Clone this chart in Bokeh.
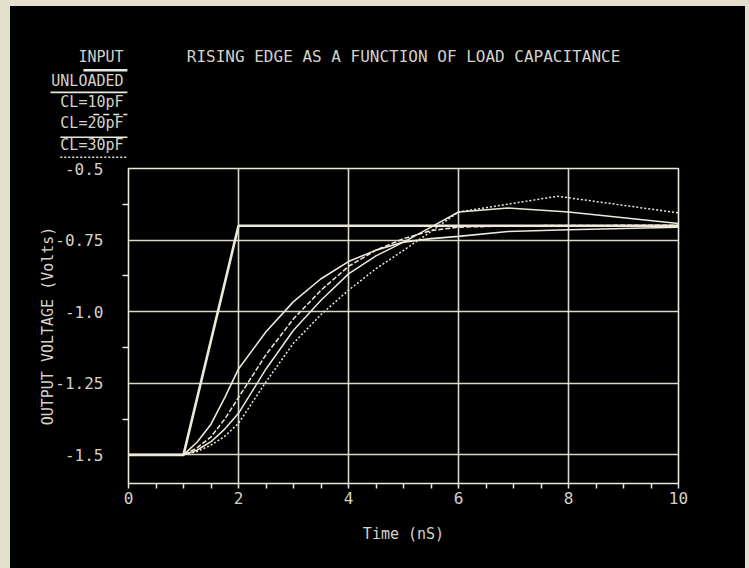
from bokeh.plotting import figure
from bokeh.models import FixedTicker, Range1d
from bokeh.core.properties import value
from bokeh.embed import file_html
from bokeh.resources import INLINE

# ---- data ----
input_t = [0, 1, 2, 10]
input_v = [-1.5, -1.5, -0.7, -0.7]

unloaded_t = [0, 1, 1.25, 1.5, 1.75, 2, 2.5, 3, 3.5, 4, 4.5, 5, 5.5, 6, 6.9, 8, 10]
unloaded_v = [-1.5, -1.5, -1.455, -1.393, -1.30, -1.20, -1.07, -0.965, -0.885, -0.825,
              -0.785, -0.757, -0.745, -0.737, -0.72, -0.714, -0.705]

cl10_t = [0, 1, 1.25, 1.5, 1.75, 2, 2.5, 3, 3.5, 4, 4.5, 5, 5.5, 6, 7, 8, 10]
cl10_v = [-1.5, -1.5, -1.475, -1.437, -1.375, -1.30, -1.15, -1.025, -0.925, -0.842,
          -0.785, -0.745, -0.717, -0.705, -0.700, -0.699, -0.698]

cl20_t = [0, 1, 1.25, 1.5, 1.75, 2, 2.5, 3, 3.5, 4, 4.5, 5, 5.5, 6, 6.9, 8, 10]
cl20_v = [-1.5, -1.5, -1.483, -1.454, -1.41, -1.355, -1.20, -1.065, -0.96, -0.868,
          -0.805, -0.757, -0.705, -0.652, -0.638, -0.652, -0.692]

cl30_t = [0, 1, 1.25, 1.5, 1.75, 2, 2.5, 3, 3.5, 4, 4.5, 5, 5.5, 6, 7.8, 10]
cl30_v = [-1.5, -1.5, -1.488, -1.466, -1.435, -1.39, -1.245, -1.11, -1.01, -0.925,
          -0.85, -0.786, -0.72, -0.652, -0.597, -0.655]

x_ticks = [0, 2, 4, 6, 8, 10]
x_minor = [0.5, 1, 1.5, 2.5, 3, 3.5, 4.5, 5, 5.5, 6.5, 7, 7.5, 8.5, 9, 9.5]
y_ticks = [-1.5, -1.25, -1.0, -0.75, -0.5]
y_tick_labels = ["-1.5", "-1.25", "-1.0", "-0.75", "-0.5"]
y_minor = [-1.375, -1.125, -0.875, -0.625]

title_text = "RISING EDGE AS A FUNCTION OF LOAD CAPACITANCE"
legend_names = ["INPUT", "UNLOADED", "CL=10pF", "CL=20pF", "CL=30pF"]

# ---- style ----
BG = "#000000"
LINE = "#ece9da"
TEXT = "#d4d2c8"
FONT = "DejaVu Sans Mono"
PAPER = "#e4e0cb"

PAD_LEFT, PAD_TOP = 10, 6
W = 735
LEFT, RIGHT, TOP_GAP, BOTTOM = 118, 67, 10, 85
FRAME_H = 315
HEAD_H = 152
X0, X1 = 0, 10
Y0, Y1 = -1.6, -0.5
px_per_x = (W - LEFT - RIGHT) / (X1 - X0)
px_per_y = FRAME_H / (Y1 - Y0)

# ---- main plot ----
p = figure(width=W, height=TOP_GAP + FRAME_H + BOTTOM, output_backend="svg",
           toolbar_location=None,
           x_range=Range1d(X0, X1), y_range=Range1d(Y0, Y1),
           min_border_left=LEFT, min_border_right=RIGHT, min_border_top=TOP_GAP,
           min_border_bottom=BOTTOM)
p.background_fill_color = BG
p.border_fill_color = BG
p.outline_line_color = LINE
p.outline_line_width = 1.6

p.xgrid.ticker = FixedTicker(ticks=[2, 4, 6, 8])
p.ygrid.ticker = FixedTicker(ticks=[-1.5, -1.25, -1.0, -0.75])
for g in (p.xgrid, p.ygrid):
    g.grid_line_color = LINE
    g.grid_line_width = 1.6
    g.grid_line_alpha = 0.92

xa = p.xaxis[0]
xa.ticker = FixedTicker(ticks=x_ticks, minor_ticks=x_minor)
xa.axis_line_color = None
xa.major_tick_line_color = LINE
xa.minor_tick_line_color = LINE
xa.major_tick_in = 0
xa.major_tick_out = 5
xa.minor_tick_in = 0
xa.minor_tick_out = 5
xa.major_tick_line_width = 1.5
xa.minor_tick_line_width = 1.5
xa.major_label_standoff = 3
xa.axis_label = "Time (nS)"
xa.axis_label_standoff = 18

ya = p.yaxis[0]
ya.ticker = FixedTicker(ticks=y_ticks, minor_ticks=y_minor)
ya.major_label_overrides = {t: l for t, l in zip(y_ticks, y_tick_labels)}
ya.axis_line_color = None
ya.major_tick_line_color = None
ya.minor_tick_line_color = LINE
ya.major_tick_in = 0
ya.major_tick_out = 0
ya.minor_tick_in = 0
ya.minor_tick_out = 6
ya.minor_tick_line_width = 1.5
ya.major_label_standoff = 19
ya.axis_label = "OUTPUT VOLTAGE (Volts)"
ya.axis_label_standoff = -5

for ax in (xa, ya):
    ax.major_label_text_font = FONT
    ax.major_label_text_font_size = "16px"
    ax.major_label_text_color = TEXT
    ax.axis_label_text_font = FONT
    ax.axis_label_text_font_size = "15px"
    ax.axis_label_text_font_style = "normal"
    ax.axis_label_text_color = TEXT

p.line(input_t, input_v, line_color=LINE, line_width=2.6)
p.line(unloaded_t, unloaded_v, line_color=LINE, line_width=1.6)
p.line(cl10_t, cl10_v, line_color=LINE, line_width=1.5, line_dash="5 2")
p.line(cl20_t, cl20_v, line_color=LINE, line_width=1.5)
p.line(cl30_t, cl30_v, line_color=LINE, line_width=1.5, line_dash="2 2")

# ---- heading strip (title + legend), same data scale as the main plot ----
hx0 = X0 - LEFT / px_per_x
hx1 = X1 + RIGHT / px_per_x
hy0 = Y1 + TOP_GAP / px_per_y
hy1 = hy0 + HEAD_H / px_per_y
h = figure(width=W, height=HEAD_H, output_backend="svg", toolbar_location=None,
           x_range=Range1d(hx0, hx1), y_range=Range1d(hy0, hy1),
           x_axis_type=None, y_axis_type=None,
           min_border_left=0, min_border_right=0, min_border_top=0,
           min_border_bottom=0)
h.background_fill_color = BG
h.border_fill_color = BG
h.outline_line_color = None

h.text(x=[1.06], y=[-0.108], text=[title_text], text_font=value(FONT),
       text_font_size="16px", text_color=TEXT, text_align="left",
       text_baseline="middle")

leg_text_y = [-0.112, -0.195, -0.269, -0.342, -0.419]
leg_line_y = [-0.157, -0.234, -0.311, -0.391, -0.461]
leg_line_x0 = [-0.82, -1.42, -0.64, -1.24, -1.24]
leg_styles = [("solid", 2.4), ("solid", 1.6), ("6 4", 1.5), ("solid", 1.5), ("2 2", 1.5)]
h.text(x=[-0.09] * len(legend_names), y=leg_text_y, text=legend_names,
       text_font=value(FONT), text_font_size="15px", text_color=TEXT,
       text_align="right", text_baseline="middle")
for ly, lx0, (dash, lw) in zip(leg_line_y, leg_line_x0, leg_styles):
    h.line([lx0, -0.02], [ly, ly], line_color=LINE, line_width=lw, line_dash=dash)

html = file_html([h, p], INLINE)
right_edge = PAD_LEFT + W
css = ("<style>html{background:"
       f"linear-gradient({PAPER},{PAPER}) top left/100% {PAD_TOP}px no-repeat,"
       f"linear-gradient(to right,{PAPER} 0px,{PAPER} {PAD_LEFT}px,#000 {PAD_LEFT}px,"
       f"#000 {right_edge}px,{PAPER} {right_edge}px) !important;}}"
       "html,body{box-sizing:border-box !important;margin:0 !important;}"
       f"body{{background:transparent !important;padding:{PAD_TOP}px 0 0 {PAD_LEFT}px !important;}}"
       "</style>")
html = html.replace("</head>", css + "</head>", 1)
open("out.html", "w").write(html)
